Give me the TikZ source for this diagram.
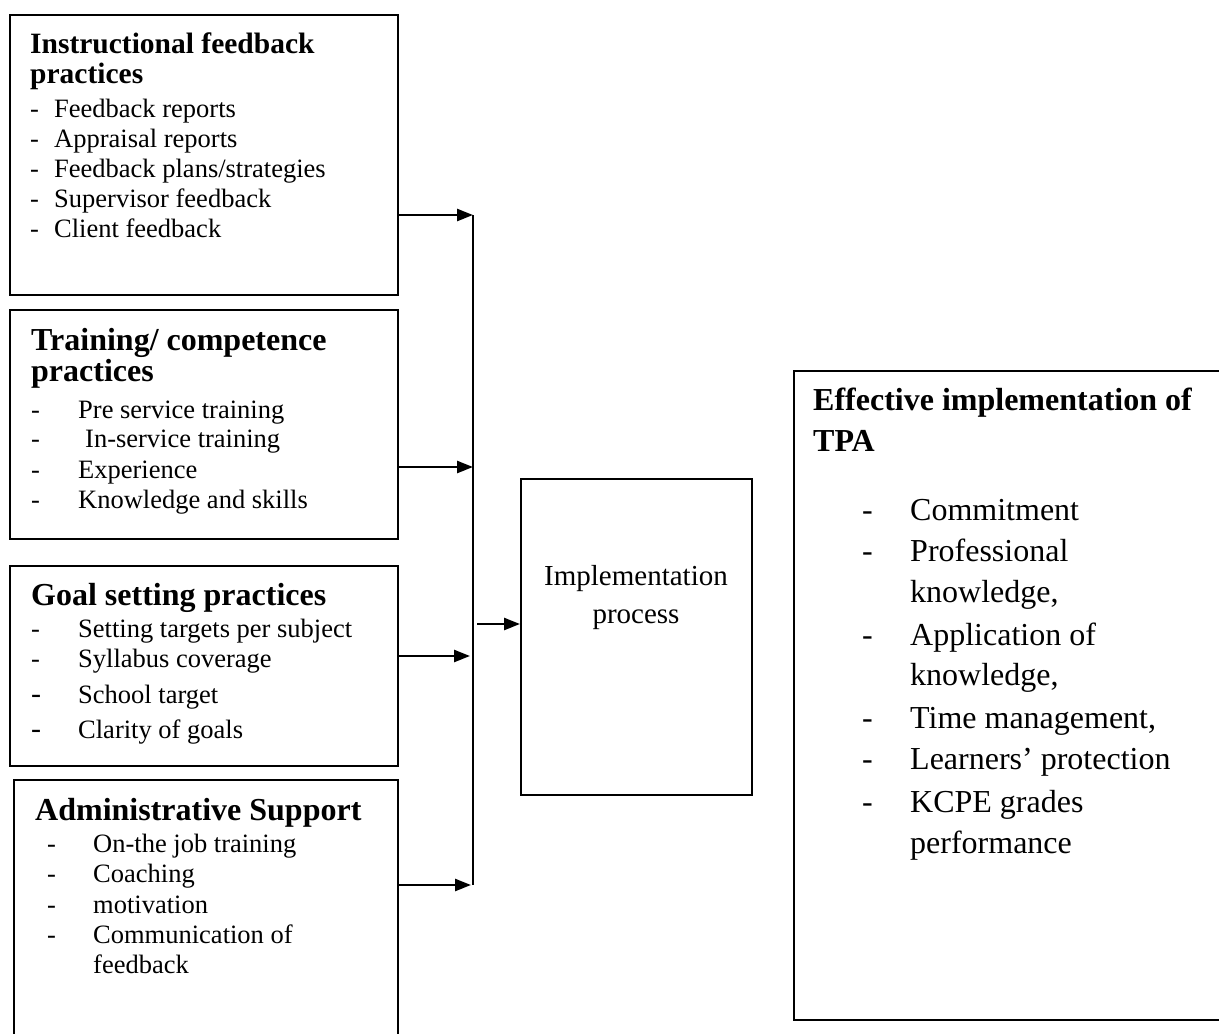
\documentclass[tikz,border=0pt]{standalone}
\usepackage{fontspec}
\setmainfont{Liberation Serif}
\usetikzlibrary{arrows.meta}
\newcommand\fsItem{\fontsize{26.5}{30}\selectfont}
\newcommand\fsHead{\fontsize{32}{38}\selectfont\bfseries}
\newcommand\fsHeadA{\fontsize{29.5}{34}\selectfont\bfseries}
\newcommand\fsMid{\fontsize{29}{34}\selectfont}
\newcommand\fsBig{\fontsize{32}{38}\selectfont}
\newcommand\fsDash{\fontsize{30}{34}\selectfont}
\begin{document}
\begin{tikzpicture}[x=1pt,y=-1pt,
  box/.style={draw, line width=2.3pt, inner sep=0pt, anchor=north west, rectangle},
  txt/.style={anchor=base west, inner sep=0pt},
  ctr/.style={anchor=base, inner sep=0pt},
  arr/.style={-{Triangle[length=16pt,width=12pt]}, line width=2.5pt},
  bus/.style={line width=2.5pt}]
\useasboundingbox (0,0) rectangle (1219,1034);
\clip (0,0) rectangle (1219,1034);
% boxes
\node[box, minimum width=388pt, minimum height=280pt] (b1) at (9,14) {};
\node[box, minimum width=388pt, minimum height=229pt] (b2) at (9,309) {};
\node[box, minimum width=388pt, minimum height=200pt] (b3) at (9,565) {};
\node[box, minimum width=384pt, minimum height=300pt] (b4) at (13,779) {};
\node[box, minimum width=231pt, minimum height=316pt] (mid) at (520,478) {};
\node[box, minimum width=450pt, minimum height=649pt] (res) at (793,370) {};
% box 1
\node[txt, font=\fsHeadA] (b1h1) at (30,53) {Instructional feedback};
\node[txt, font=\fsHeadA] (b1h2) at (30,83) {practices};
\node[txt, font=\fsItem] (b1d1) at (30,117) {-};
\node[txt, font=\fsItem] (b1i1) at (54,117) {Feedback reports};
\node[txt, font=\fsItem] (b1d2) at (30,147) {-};
\node[txt, font=\fsItem] (b1i2) at (54,147) {Appraisal reports};
\node[txt, font=\fsItem] (b1d3) at (30,177) {-};
\node[txt, font=\fsItem] (b1i3) at (54,177) {Feedback plans/strategies};
\node[txt, font=\fsItem] (b1d4) at (30,207) {-};
\node[txt, font=\fsItem] (b1i4) at (54,207) {Supervisor feedback};
\node[txt, font=\fsItem] (b1d5) at (30,237) {-};
\node[txt, font=\fsItem] (b1i5) at (54,237) {Client feedback};
% box 2
\node[txt, font=\fsHead] (b2h1) at (31,350) {Training/ competence};
\node[txt, font=\fsHead] (b2h2) at (31,381) {practices};
\node[txt, font=\fsItem] (b2d1) at (31,418) {-};
\node[txt, font=\fsItem] (b2i1) at (78,418) {Pre service training};
\node[txt, font=\fsItem] (b2d2) at (31,447) {-};
\node[txt, font=\fsItem] (b2i2) at (85,447) {In-service training};
\node[txt, font=\fsItem] (b2d3) at (31,478) {-};
\node[txt, font=\fsItem] (b2i3) at (78,478) {Experience};
\node[txt, font=\fsItem] (b2d4) at (31,508) {-};
\node[txt, font=\fsItem] (b2i4) at (78,508) {Knowledge and skills};
% box 3
\node[txt, font=\fsHead] (b3h1) at (31,605) {Goal setting practices};
\node[txt, font=\fsItem] (b3d1) at (31,637) {-};
\node[txt, font=\fsItem] (b3i1) at (78,637) {Setting targets per subject};
\node[txt, font=\fsItem] (b3d2) at (31,667) {-};
\node[txt, font=\fsItem] (b3i2) at (78,667) {Syllabus coverage};
\node[txt, font=\fsDash] (b3d3) at (31,703) {-};
\node[txt, font=\fsItem] (b3i3) at (78,703) {School target};
\node[txt, font=\fsDash] (b3d4) at (31,738) {-};
\node[txt, font=\fsItem] (b3i4) at (78,738) {Clarity of goals};
% box 4
\node[txt, font=\fsHead] (b4h1) at (35,820) {Administrative Support};
\node[txt, font=\fsItem] (b4d1) at (47,852) {-};
\node[txt, font=\fsItem] (b4i1) at (93,852) {On-the job training};
\node[txt, font=\fsItem] (b4d2) at (47,882) {-};
\node[txt, font=\fsItem] (b4i2) at (93,882) {Coaching};
\node[txt, font=\fsItem] (b4d3) at (47,913) {-};
\node[txt, font=\fsItem] (b4i3) at (93,913) {motivation};
\node[txt, font=\fsItem] (b4d4) at (47,943) {-};
\node[txt, font=\fsItem] (b4i4) at (93,943) {Communication of};
\node[txt, font=\fsItem] (b4i5) at (93,973) {feedback};
% middle
\node[ctr, font=\fsMid] (m1) at (636,585) {Implementation};
\node[ctr, font=\fsMid] (m2) at (636,623) {process};
% right
\node[txt, font=\fsHead] (rh1) at (813,410) {Effective implementation of};
\node[txt, font=\fsHead] (rh2) at (813,451) {TPA};
\node[txt, font=\fsBig] (rd1) at (862,520) {-};
\node[txt, font=\fsBig] (ri1) at (910,520) {Commitment};
\node[txt, font=\fsBig] (rd2) at (862,561) {-};
\node[txt, font=\fsBig] (ri2) at (910,561) {Professional};
\node[txt, font=\fsBig] (ri2b) at (910,602) {knowledge,};
\node[txt, font=\fsBig] (rd3) at (862,645) {-};
\node[txt, font=\fsBig] (ri3) at (910,645) {Application of};
\node[txt, font=\fsBig] (ri3b) at (910,685) {knowledge,};
\node[txt, font=\fsBig] (rd4) at (862,728) {-};
\node[txt, font=\fsBig] (ri4) at (910,728) {Time management,};
\node[txt, font=\fsBig] (rd5) at (862,769) {-};
\node[txt, font=\fsBig] (ri5) at (910,769) {Learners’ protection};
\node[txt, font=\fsBig] (rd6) at (862,812) {-};
\node[txt, font=\fsBig] (ri6) at (910,812) {KCPE grades};
\node[txt, font=\fsBig] (ri6b) at (910,853) {performance};
% connectors
\coordinate (busT) at (473,215);
\coordinate (busB) at (473,885);
\coordinate (j1) at (473,215);
\coordinate (j2) at (473,467);
\coordinate (j3) at (470,656);
\coordinate (j4) at (471,885);
\coordinate (mstart) at (477,624);
\draw[bus] (busT) -- (busB);
\draw[arr] (b1.east |- j1) -- (j1);
\draw[arr] (b2.east |- j2) -- (j2);
\draw[arr] (b3.east |- j3) -- (j3);
\draw[arr] (b4.east |- j4) -- (j4);
\draw[arr] (mstart) -- (mid.west |- mstart);
\end{tikzpicture}
\end{document}
